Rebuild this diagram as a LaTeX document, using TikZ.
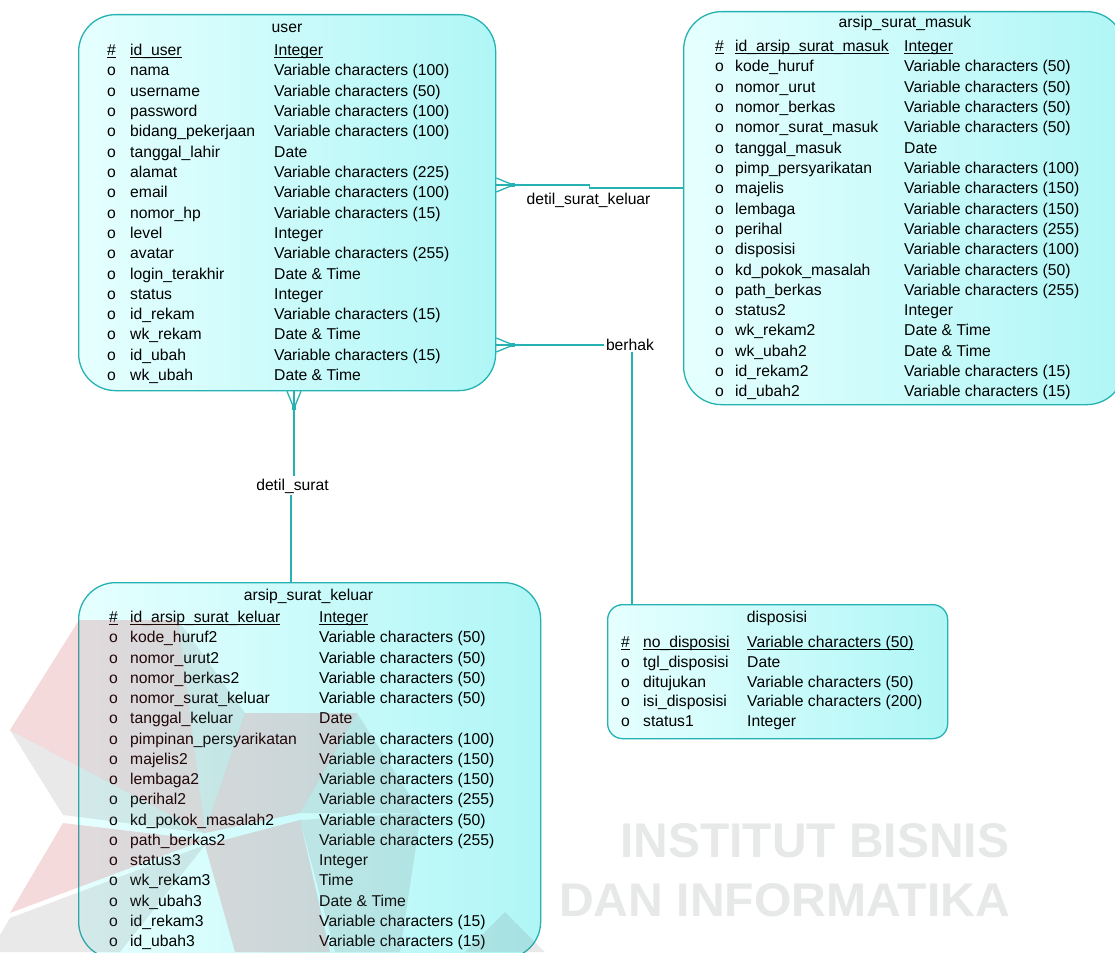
\documentclass[tikz,border=0pt]{standalone}
\usepackage{fontspec}
\setmainfont{Liberation Sans}
\usepackage{graphicx}
\usetikzlibrary{calc}

\definecolor{erdline}{RGB}{38,178,178}
\definecolor{erdlight}{RGB}{230,255,255}
\definecolor{erddark}{RGB}{176,246,246}
\definecolor{wmred}{RGB}{200,40,50}
\definecolor{wmgrey}{RGB}{110,110,110}
\definecolor{wmtext}{RGB}{231,233,233}

% underline for primary-key cells, drawn close to the baseline
\newcommand\keyul[1]{\setbox0=\hbox{#1}\rlap{\rule[-2.6pt]{\wd0}{0.9pt}}\box0}

% attribute rows: prefix, x marker, x name, x type, baseline of key row, row step, list name/type
\newcommand\erdattrs[7]{%
  \foreach \attrname/\attrtype [count=\ai] in {#7}{%
    \node[attr] (#1-m\ai) at (#2,{#5+\ai*#6}) {o};
    \node[attr] (#1-n\ai) at (#3,{#5+\ai*#6}) {\attrname};
    \node[attr] (#1-t\ai) at (#4,{#5+\ai*#6}) {\attrtype};
  }}

\tikzset{
  entity/.style={draw=erdline, line width=1.3pt, left color=erdlight, right color=erddark,
    rounded corners=37pt, inner sep=0pt, anchor=north west},
  attr/.style={font=\fontsize{15.7}{18}\selectfont, inner sep=0pt, anchor=base west, text=black},
  ttl/.style={attr, anchor=base},
  rel/.style={draw=erdline, line width=1.3pt},
  rlabel/.style={font=\fontsize{15.7}{18}\selectfont, inner sep=2pt, anchor=base},
  wmtxt/.style={inner sep=0pt, anchor=south west, text=wmtext},
  wmr/.style={fill=wmred, fill opacity=0.17},
  wmg/.style={fill=wmgrey, fill opacity=0.15},
  crowsfoot/.pic={
    \draw[rel] (0,-7) -- (17,0) -- (0,7) (0,0) -- (17,0);
    \fill[erdline] (15,-2) rectangle (19,2);
  },
}

\begin{document}
\begin{tikzpicture}[x=1pt, y=-1pt]
\useasboundingbox (0,0) rectangle (1115,952);
\clip (0,0) rectangle (1115,952);
\fill[white] (0,0) rectangle (1115,952);

% ---------- entities ----------
\node[entity, minimum width=417pt, minimum height=376pt] (user) at (78,14) {};
\node[entity, minimum width=441pt, minimum height=393pt, rounded corners=38pt] (masuk) at (683,11) {};
\node[entity, minimum width=462pt, minimum height=376pt] (keluar) at (78,582) {};
\node[entity, minimum width=340pt, minimum height=134pt, rounded corners=15pt] (disp) at (607,604) {};

% user
\node[ttl] (user-title) at (287,32.5) {user};
\node[attr] (user-km) at (107,55.7) {\keyul{\#}};
\node[attr] (user-kn) at (130,55.7) {\keyul{id\_user}};
\node[attr] (user-kt) at (274,55.7) {\keyul{Integer}};
\erdattrs{user}{107}{130}{274}{55.7}{20.3}{
  nama/Variable characters (100),
  username/Variable characters (50),
  password/Variable characters (100),
  bidang\_pekerjaan/Variable characters (100),
  tanggal\_lahir/Date,
  alamat/Variable characters (225),
  email/Variable characters (100),
  nomor\_hp/Variable characters (15),
  level/Integer,
  avatar/Variable characters (255),
  login\_terakhir/Date \& Time,
  status/Integer,
  id\_rekam/Variable characters (15),
  wk\_rekam/Date \& Time,
  id\_ubah/Variable characters (15),
  wk\_ubah/Date \& Time}

% arsip_surat_masuk
\node[ttl] (masuk-title) at (905,28) {arsip\_surat\_masuk};
\node[attr] (masuk-km) at (715,51.7) {\keyul{\#}};
\node[attr] (masuk-kn) at (735,51.7) {\keyul{id\_arsip\_surat\_masuk}};
\node[attr] (masuk-kt) at (904,51.7) {\keyul{Integer}};
\erdattrs{masuk}{715}{735}{904}{51.7}{20.3}{
  kode\_huruf/Variable characters (50),
  nomor\_urut/Variable characters (50),
  nomor\_berkas/Variable characters (50),
  nomor\_surat\_masuk/Variable characters (50),
  tanggal\_masuk/Date,
  pimp\_persyarikatan/Variable characters (100),
  majelis/Variable characters (150),
  lembaga/Variable characters (150),
  perihal/Variable characters (255),
  disposisi/Variable characters (100),
  kd\_pokok\_masalah/Variable characters (50),
  path\_berkas/Variable characters (255),
  status2/Integer,
  wk\_rekam2/Date \& Time,
  wk\_ubah2/Date \& Time,
  id\_rekam2/Variable characters (15),
  id\_ubah2/Variable characters (15)}

% arsip_surat_keluar
\node[ttl] (keluar-title) at (308.5,600.7) {arsip\_surat\_keluar};
\node[attr] (keluar-km) at (109,622.7) {\keyul{\#}};
\node[attr] (keluar-kn) at (130,622.7) {\keyul{id\_arsip\_surat\_keluar}};
\node[attr] (keluar-kt) at (319,622.7) {\keyul{Integer}};
\erdattrs{keluar}{109}{130}{319}{622.7}{20.25}{
  kode\_huruf2/Variable characters (50),
  nomor\_urut2/Variable characters (50),
  nomor\_berkas2/Variable characters (50),
  nomor\_surat\_keluar/Variable characters (50),
  tanggal\_keluar/Date,
  pimpinan\_persyarikatan/Variable characters (100),
  majelis2/Variable characters (150),
  lembaga2/Variable characters (150),
  perihal2/Variable characters (255),
  kd\_pokok\_masalah2/Variable characters (50),
  path\_berkas2/Variable characters (255),
  status3/Integer,
  wk\_rekam3/Time,
  wk\_ubah3/Date \& Time,
  id\_rekam3/Variable characters (15),
  id\_ubah3/Variable characters (15)}

% disposisi
\node[ttl] (disp-title) at (777,622.3) {disposisi};
\node[attr] (disp-km) at (621,647.3) {\keyul{\#}};
\node[attr] (disp-kn) at (643,647.3) {\keyul{no\_disposisi}};
\node[attr] (disp-kt) at (747,647.3) {\keyul{Variable characters (50)}};
\erdattrs{disp}{621}{643}{747}{647.3}{19.85}{
  tgl\_disposisi/Date,
  ditujukan/Variable characters (50),
  isi\_disposisi/Variable characters (200),
  status1/Integer}

% ---------- relationships ----------
\node[rlabel] (lbl-dsk) at (588.5,204.3) {detil\_surat\_keluar};
\node[rlabel] (lbl-berhak) at (630,350) {berhak};
\node[rlabel] (lbl-ds) at (292.5,490) {detil\_surat};

% detil_surat_keluar: user -- arsip_surat_masuk
\draw[rel] (user.east |- 0,185) -- ++(93,0) |- (masuk.west |- 0,188);
\pic at (user.east |- 0,185) {crowsfoot};

% berhak: user -- disposisi
\draw[rel] (user.east |- 0,345) -- (lbl-berhak.west |- 0,345);
\draw[rel] (lbl-berhak.south -| 632,0) -- (disp.north -| 632,0);
\pic at (user.east |- 0,345) {crowsfoot};

% detil_surat: user -- arsip_surat_keluar
\draw[rel] (user.south -| 294,0) -- (lbl-ds.north -| 294,0);
\draw[rel] (lbl-ds.south -| 291,0) -- (keluar.north -| 291,0);
\pic[rotate=-90] at (user.south -| 294,0) {crowsfoot};

% ---------- institute watermark ----------
\fill[wmr] (79,620) -- (178,620) -- (205,833) -- (10,730) -- cycle;
\fill[wmg] (178,620) -- (245,713) -- (205,833) -- cycle;
\fill[wmr] (245,713) -- (357,713) -- (300,813) -- (205,833) -- cycle;
\fill[wmg] (357,713) -- (421,813) -- (300,813) -- cycle;
\fill[wmg] (10,730) -- (205,833) -- (63,815) -- cycle;
\fill[wmr] (63,823) -- (205,840) -- (10,913) -- cycle;
\fill[wmg] (10,918) -- (205,845) -- (120,952) -- (0,952) -- (0,935) -- cycle;
\fill[wmr] (205,845) -- (300,820) -- (330,952) -- (235,952) -- cycle;
\fill[wmg] (300,820) -- (421,813) -- (400,952) -- (335,952) -- cycle;
\fill[wmg] (505,912) -- (545,952) -- (465,952) -- cycle;
\node[wmtxt] (wm-line1) at (620,858) {\resizebox{389pt}{34pt}{\bfseries INSTITUT BISNIS}};
\node[wmtxt] (wm-line2) at (559,917) {\resizebox{451pt}{33pt}{\bfseries DAN INFORMATIKA}};
\end{tikzpicture}
\end{document}
